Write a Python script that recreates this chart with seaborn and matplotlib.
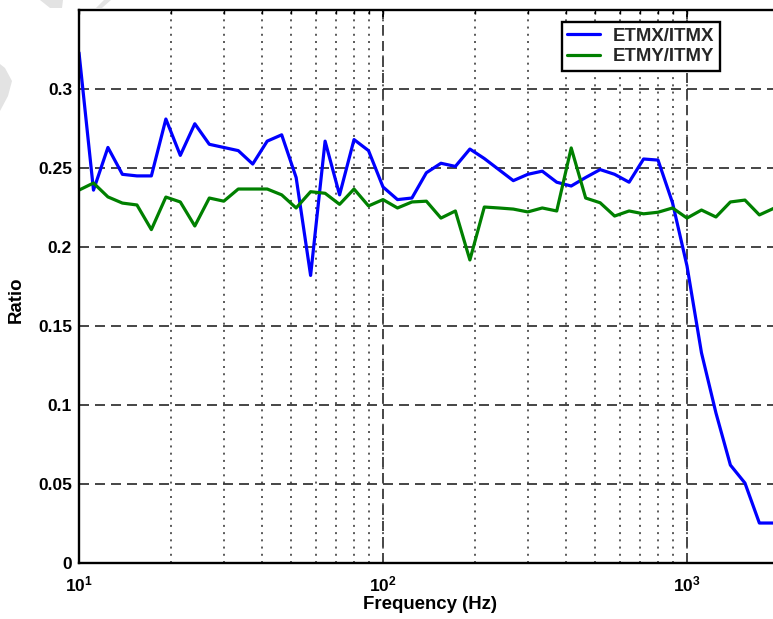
import numpy as np
import pandas as pd
import matplotlib
matplotlib.use("Agg")
import matplotlib.pyplot as plt
import seaborn as sns
from matplotlib.lines import Line2D
from matplotlib.patches import Polygon
from matplotlib.ticker import FixedLocator, LogLocator, NullFormatter

# ---- data ----
freqs = [10.0, 11.16, 12.45, 13.89, 15.51, 17.30, 19.31, 21.54, 24.04, 26.83,
         29.94, 33.41, 37.28, 41.60, 46.42, 51.79, 57.79, 64.49, 71.97, 80.30,
         89.61, 100.0, 111.6, 124.5, 138.9, 155.1, 173.0, 193.1, 215.4, 240.4,
         268.3, 299.4, 334.1, 372.8, 416.0, 464.2, 517.9, 577.9, 644.9, 719.7,
         803.0, 896.1, 1000.0, 1116.0, 1245.0, 1389.0, 1551.0, 1730.0, 1931.0]

etmx_itmx = [0.323, 0.236, 0.263, 0.246, 0.245, 0.245, 0.281, 0.258, 0.278, 0.265,
             0.263, 0.261, 0.2525, 0.267, 0.271, 0.244, 0.182, 0.267, 0.233, 0.268,
             0.261, 0.238, 0.230, 0.231, 0.247, 0.253, 0.251, 0.262, 0.256, 0.249,
             0.242, 0.246, 0.248, 0.241, 0.2386, 0.244, 0.249, 0.246, 0.241, 0.2557,
             0.255, 0.228, 0.188, 0.133, 0.095, 0.062, 0.0506, 0.0253, 0.0253]

etmy_itmy = [0.236, 0.2405, 0.2317, 0.2278, 0.2266, 0.211, 0.2316, 0.2285, 0.2133, 0.231,
             0.229, 0.2367, 0.2367, 0.2367, 0.233, 0.2247, 0.235, 0.234, 0.227, 0.2367,
             0.226, 0.230, 0.2247, 0.2285, 0.229, 0.2183, 0.2228, 0.1918, 0.2253, 0.2247,
             0.224, 0.2222, 0.2247, 0.2228, 0.2627, 0.231, 0.228, 0.2196, 0.2228, 0.221,
             0.222, 0.2247, 0.2183, 0.2234, 0.219, 0.2285, 0.2297, 0.2203, 0.2245]

series_names = ["ETMX/ITMX", "ETMY/ITMY"]
series_colors = ["#0000ff", "#008000"]
ytick_vals = [0, 0.05, 0.1, 0.15, 0.2, 0.25, 0.3]
ytick_labels = ["0", "0.05", "0.1", "0.15", "0.2", "0.25", "0.3"]
xtick_vals = [10, 100, 1000]
xtick_labels = [r"$10^{1}$", r"$10^{2}$", r"$10^{3}$"]

df = pd.DataFrame({
    "freq": freqs * 2,
    "ratio": etmx_itmx + etmy_itmy,
    "series": [series_names[0]] * len(freqs) + [series_names[1]] * len(freqs),
})

# ---- style ----
sns.set_theme(style="white")
plt.rcParams["font.family"] = ["Liberation Sans", "DejaVu Sans"]
plt.rcParams["font.weight"] = "bold"
plt.rcParams["mathtext.fontset"] = "custom"
plt.rcParams["mathtext.rm"] = "Liberation Sans:bold"
plt.rcParams["mathtext.it"] = "Liberation Sans:bold"
plt.rcParams["mathtext.bf"] = "Liberation Sans:bold"

W, H = 773, 619
fig = plt.figure(figsize=(W / 100, H / 100), dpi=100)
fig.patch.set_facecolor("white")
ax = fig.add_axes([79 / W, 56 / H, 760 / W, 553 / H])
ax.set_facecolor("white")

sns.lineplot(data=df, x="freq", y="ratio", hue="series",
             palette=dict(zip(series_names, series_colors)),
             linewidth=2.3, estimator=None, sort=False, legend=False, ax=ax)

ax.set_xscale("log")
ax.set_xlim(10, 10 ** 3.5)
ax.set_ylim(0, 0.35)

ax.xaxis.set_major_locator(FixedLocator(xtick_vals))
ax.set_xticks(xtick_vals)
ax.set_xticklabels(xtick_labels)
ax.xaxis.set_minor_locator(LogLocator(base=10, subs=np.arange(1, 10)))
ax.xaxis.set_minor_formatter(NullFormatter())
ax.xaxis.remove_overlapping_locs = False
ax.set_yticks(ytick_vals)
ax.set_yticklabels(ytick_labels)

ax.set_axisbelow(True)
ax.grid(which="major", axis="both", linestyle=(0, (6, 3.6)), color="#262626", linewidth=1.2)
ax.grid(which="minor", axis="x", linestyle=(0, (1.1, 2.9)), color="#4d4d4d", linewidth=1.3)

ax.tick_params(which="both", direction="in", top=True, right=True, colors="black",
               labelsize=12.5)
ax.tick_params(which="major", length=5, width=1.2, pad=5)
ax.tick_params(which="minor", length=3, width=1.0)
ax.tick_params(axis="x", which="major", pad=8)
for lab in ax.get_xticklabels() + ax.get_yticklabels():
    lab.set_fontweight("bold")

for sp in ax.spines.values():
    sp.set_color("black")
    sp.set_linewidth(1.7)

ax.set_xlabel("Frequency (Hz)", fontsize=13.4, fontweight="bold", color="black")
ax.set_ylabel("Ratio", fontsize=13.4, fontweight="bold", color="black")
ax.xaxis.set_label_coords(430 / W, (H - 596) / H, transform=fig.transFigure)
ax.yaxis.set_label_coords(25 / W, (H - 300) / H, transform=fig.transFigure)

handles = [Line2D([0], [0], color=c, lw=2.3) for c in series_colors]
leg = ax.legend(handles, series_names, loc="upper right",
                bbox_to_anchor=(720 / W, (H - 22) / H), bbox_transform=fig.transFigure,
                borderaxespad=0, frameon=True, fancybox=False, framealpha=1,
                edgecolor="black", prop={"weight": "bold", "size": 13.4},
                handlelength=1.75, handletextpad=0.7, labelspacing=0.2, borderpad=0.3)
leg.get_frame().set_linewidth(1.7)

# faint watermark fragments in the top-left corner
def px_poly(pts):
    return Polygon([(x / W, (H - y) / H) for x, y in pts], closed=True,
                   transform=fig.transFigure, facecolor="#e3e3e3", edgecolor="none",
                   zorder=-1)

fig.patches.extend([
    px_poly([(40, 0), (63, 0), (62, 8), (50, 8)]),
    px_poly([(96, 8), (102, 8), (111, 0), (104, 0)]),
    px_poly([(0, 64), (5, 68), (12, 81), (8, 96), (0, 111)]),
])

fig.savefig("out.png", dpi=100, facecolor="white")
